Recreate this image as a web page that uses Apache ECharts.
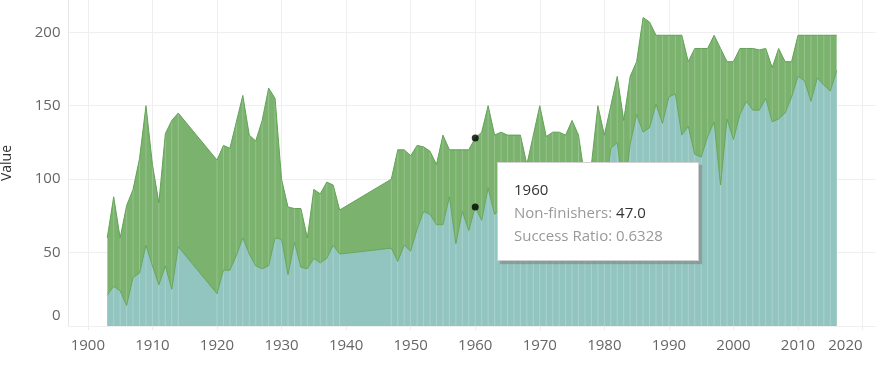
<!DOCTYPE html>
<html><head><meta charset="utf-8">
<script src="https://cdn.jsdelivr.net/npm/echarts@6/dist/echarts.min.js"></script>
<style>html,body{margin:0;padding:0;background:#fff}#c{width:878px;height:370px}</style>
</head><body><div id="c"></div>
<script>
const years = [1903,1904,1905,1906,1907,1908,1909,1910,1911,1912,1913,1914,
1920,1921,1922,1923,1924,1925,1926,1927,1928,1929,1930,1931,1932,1933,1934,1935,1936,1937,1938,1939,
1947,1948,1949,1950,1951,1952,1953,1954,1955,1956,1957,1958,1959,1960,1961,1962,1963,1964,1965,1966,1967,1968,1969,
1970,1971,1972,1973,1974,1975,1976,1977,1978,1979,1980,1981,1982,1983,1984,1985,1986,1987,1988,1989,
1990,1991,1992,1993,1994,1995,1996,1997,1998,1999,2000,2001,2002,2003,2004,2005,2006,2007,2008,2009,
2010,2011,2012,2013,2014,2015,2016];
const starters = [60,88,60,82,93,114,150,110,84,131,140,145,
113,123,121,139,157,130,126,140,162,155,100,81,80,80,60,93,90,98,96,79,
100,120,120,116,123,122,119,110,130,120,120,120,120,128,132,150,130,132,130,130,130,110,130,
150,129,132,132,130,140,130,100,110,150,130,150,170,140,170,180,210,207,198,198,
198,198,198,180,189,189,189,198,189,180,180,189,189,189,188,189,176,189,180,180,
198,198,198,198,198,198,198];
const finishers = [21,27,24,14,33,36,55,41,28,41,25,54,
22,38,38,48,60,49,41,39,41,60,59,35,57,40,39,46,43,46,55,49,
53,44,55,51,66,78,76,69,69,88,56,78,65,81,72,94,76,81,96,82,88,63,86,
100,94,88,87,105,86,87,53,78,89,85,121,125,88,124,144,132,135,151,138,
156,158,130,136,117,115,129,139,96,141,127,144,153,147,147,155,139,141,145,156,
170,167,153,169,164,160,174];
const xTicks = [1900,1910,1920,1930,1940,1950,1960,1970,1980,1990,2000,2010,2020];
const hoverYear = 1960;

const hi = years.indexOf(hoverYear);
const chart = echarts.init(document.getElementById('c'));
const FONT = '"Open Sans", sans-serif';
chart.setOption({
  animation: false,
  grid: {left: 68.5, right: 2.5, top: 0, bottom: 44, containLabel: false, outerBoundsMode: 'none'},
  xAxis: {
    type: 'value', min: 1897, max: 2022,
    axisLine: {show: false},
    axisTick: {show: true, length: 4, customValues: xTicks, lineStyle: {color: '#ececec'}},
    axisLabel: {customValues: xTicks, color: '#666', fontFamily: FONT, fontSize: 15, margin: 12,
      alignMaxLabel: 'right', formatter: v => String(v)},
    splitLine: {show: true, lineStyle: {color: '#efefef', width: 1}}
  },
  yAxis: {
    type: 'value', min: 0, max: 222, interval: 50,
    name: 'Value', nameLocation: 'middle', nameGap: 54,
    nameTextStyle: {color: '#333', fontFamily: FONT, fontSize: 14},
    axisLine: {show: true, lineStyle: {color: '#e6e6e6'}},
    axisTick: {show: false},
    axisLabel: {
      color: '#666', fontFamily: FONT, fontSize: 15, margin: 8, showMaxLabel: false,
      formatter: v => v === 0 ? '{z|0}' : String(v),
      rich: {z: {color: '#666', fontFamily: FONT, fontSize: 15, padding: [0, 0, 20, 0]}}
    },
    splitLine: {show: true, showMaxLine: false, lineStyle: {color: '#efefef', width: 1}}
  },
  tooltip: {
    trigger: 'item', triggerOn: 'none', alwaysShowContent: true, transitionDuration: 0,
    position: [497, 162],
    backgroundColor: '#fff', borderColor: '#d0d0d0', borderWidth: 1, padding: 0,
    extraCssText: 'box-shadow: 3px 3px 1px rgba(120,120,120,0.5); border-radius:0;',
    formatter: () => {
      const nf = (starters[hi] - finishers[hi]).toFixed(1);
      const ratio = (finishers[hi] / starters[hi]).toFixed(4);
      return '<div style="width:168px;padding:15px 16px 13px 16px;font-family:' + "'Open Sans',sans-serif" +
        ';font-size:15px;line-height:23px;color:#999;">' +
        '<div style="color:#333">' + years[hi] + '</div>' +
        '<div>Non-finishers: <span style="color:#333">' + nf + '</span></div>' +
        '<div>Success Ratio: ' + ratio + '</div></div>';
    }
  },
  series: [
    {
      name: 'Starters', type: 'line', symbol: 'none', silent: true,
      data: years.map((y, i) => [y, starters[i]]),
      lineStyle: {color: '#62a356', width: 1},
      areaStyle: {color: '#7ab26e', opacity: 1}
    },
    {
      name: 'Finishers', type: 'line', symbol: 'none', silent: true,
      data: years.map((y, i) => [y, finishers[i]]),
      lineStyle: {color: '#68a85c', width: 1},
      areaStyle: {color: '#93c5c0', opacity: 1}
    },
    {
      type: 'custom', silent: true, z: 3,
      data: years.map((y, i) => [y, starters[i]]),
      renderItem: (params, api) => {
        const p0 = api.coord([api.value(0), 0]);
        const p1 = api.coord([api.value(0), api.value(1)]);
        return {type: 'line', shape: {x1: p0[0], y1: p0[1], x2: p1[0], y2: p1[1]},
          style: {stroke: 'rgba(255,255,255,0.22)', lineWidth: 1}};
      }
    },
    {
      type: 'scatter', z: 5, symbolSize: 7,
      itemStyle: {color: '#000'},
      data: [[years[hi], starters[hi]], [years[hi], finishers[hi]]]
    }
  ]
});
chart.dispatchAction({type: 'showTip', seriesIndex: 3, dataIndex: 0});
</script></body></html>
